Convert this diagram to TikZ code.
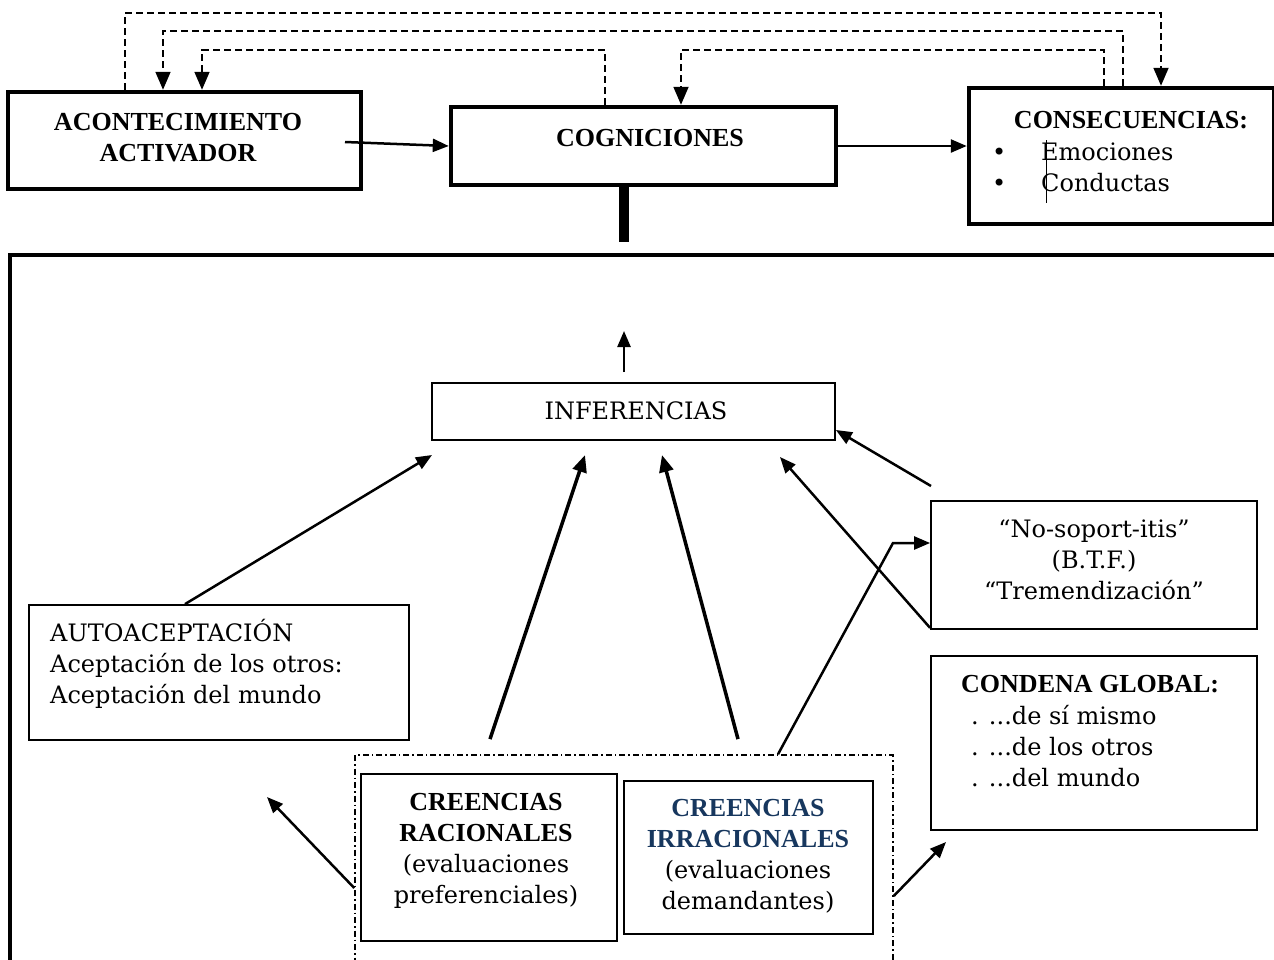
\documentclass[tikz,border=0pt]{standalone}
\usepackage{fontspec}
\setmainfont{DejaVu Serif}
\newfontfamily\headfont{Liberation Serif}
\usetikzlibrary{arrows.meta}
\definecolor{irrblue}{RGB}{23,55,94}
\newcommand\hdsize{\headfont\bfseries\fontsize{26}{31}\selectfont}
\newcommand\bdsize{\normalfont\fontsize{24}{31}\selectfont}
\tikzset{
  thickbox/.style={draw, line width=4.5pt, inner sep=0pt},
  thinbox/.style={draw, line width=1.8pt, inner sep=0pt},
  groupbox/.style={draw, line width=1.5pt, inner sep=0pt,
    dash pattern=on 6pt off 3pt on 1.5pt off 3pt},
  arr/.style={line width=2.5pt, -{Triangle[length=16pt,width=13pt]}},
  bigarr/.style={line width=3.5pt, -{Triangle[length=17pt,width=14pt]}},
  dashline/.style={line width=1.8pt, dash pattern=on 7pt off 4pt,
    -{Triangle[length=18pt,width=15pt]}},
  head/.style={inner sep=0pt, align=center, font=\hdsize},
  body/.style={inner sep=0pt, font=\bdsize},
}
\begin{document}
\begin{tikzpicture}[x=1pt,y=-1pt]
  \useasboundingbox (0,0) rectangle (1274,959);
  % top row
  \node[thickbox, minimum width=353, minimum height=97] (acont) at (184.5,140.5) {};
  \node[thickbox, minimum width=385, minimum height=78] (cogn) at (643.5,146) {};
  \node[thickbox, minimum width=305, minimum height=136] (consec) at (1121.5,156) {};
  \node[head] (acont-t) at (178,138) {ACONTECIMIENTO\\ACTIVADOR};
  \node[head] (cogn-t) at (650,138) {COGNICIONES};
  \node[head] (consec-t) at (1131,120) {CONSECUENCIAS:};
  \node[body, anchor=west, align=left] (consec-l) at (992,167)
    {\makebox[49pt][l]{•}Emociones\\\makebox[49pt][l]{•}Conductas};
  \draw[line width=0.8pt] (1046,140) -- (1046,203);
  \coordinate (acont-out) at (345,142);
  \draw[arr] (acont-out) -- (cogn.west);
  \draw[arr] (cogn.east) -- (consec.west |- cogn.east);
  % feedback loops
  \draw[dashline] (acont.north -| 125,0) |- (1161,13) -- (consec.north -| 1161,0);
  \draw[dashline] (consec.north -| 1123,0) |- (163,31) -- (acont.north -| 163,0);
  \draw[dashline] (cogn.north -| 605,0) |- (202,50) -- (acont.north -| 202,0);
  \draw[dashline] (consec.north -| 1104,0) |- (681,50) -- (cogn.north -| 681,0);
  % detail of the cognitions
  \coordinate (bar) at (624,242);
  \draw[line width=10pt] (cogn.south -| bar) -- (bar);
  \draw[line width=4.5pt] (10,975) -- (10,255) -- (1290,255);
  \coordinate (up-a) at (624,372);
  \coordinate (up-b) at (624,331);
  \draw[arr] (up-a) -- (up-b);
  \node[thinbox, minimum width=403, minimum height=57] (infer) at (633.5,411.5) {};
  \node[body] (infer-t) at (636,411) {INFERENCIAS};
  \node[thinbox, minimum width=380, minimum height=135] (autoac) at (219,672.5) {};
  \node[body, anchor=west, align=left] (autoac-t) at (50,664)
    {AUTOACEPTACIÓN\\Aceptación de los otros:\\Aceptación del mundo};
  \node[thinbox, minimum width=326, minimum height=128] (nosop) at (1094,565) {};
  \node[body, align=center] (nosop-t) at (1094,560)
    {“No-soport-itis”\\(B.T.F.)\\“Tremendización”};
  \node[thinbox, minimum width=326, minimum height=174] (condena) at (1094,743) {};
  \node[head, anchor=north west] (condena-t) at (961,675) {CONDENA GLOBAL:};
  \node[body, anchor=north west, align=left] (condena-l) at (971,705)
    {. ...de sí mismo\\. ...de los otros\\. ...del mundo};
  \node[groupbox, minimum width=538, minimum height=220] (grupo) at (624,865) {};
  \node[thinbox, minimum width=256, minimum height=167] (racio) at (489,857.5) {};
  \node[thinbox, minimum width=249, minimum height=153] (irracio) at (748.5,857.5) {};
  \node[body, align=center] (racio-t) at (486,851)
    {\hdsize CREENCIAS\\\hdsize RACIONALES\\\bdsize (evaluaciones\\\bdsize preferenciales)};
  \node[body, align=center] (irracio-t) at (748,856)
    {\hdsize\color{irrblue}CREENCIAS\\\hdsize\color{irrblue}IRRACIONALES\\
     \bdsize (evaluaciones\\\bdsize demandantes)};
  % arrows between the boxes
  \coordinate (in-a) at (432,455);
  \coordinate (in-b) at (585,455);
  \coordinate (in-c) at (662,455);
  \coordinate (in-d) at (780,457);
  \coordinate (from-side) at (931,486);
  \coordinate (left-end) at (267,797);
  \coordinate (right-end) at (946,842);
  \draw[arr] (autoac.north -| 185,0) -- (in-a);
  \draw[bigarr] (racio.north -| 490,0) ++(0,-34) -- (in-b);
  \draw[bigarr] (irracio.north -| 738,0) ++(0,-41) -- (in-c);
  \draw[arr] (grupo.north -| 778,0) -- (893,543) -- (nosop.west |- 0,543);
  \draw[arr] (nosop.south west) ++(0,-2) -- (in-d);
  \draw[arr] (from-side) -- (infer.east |- 0,430);
  \draw[arr] (grupo.west |- 0,888) -- (left-end);
  \draw[arr] (grupo.east |- 0,896) -- (right-end);
\end{tikzpicture}
\end{document}
